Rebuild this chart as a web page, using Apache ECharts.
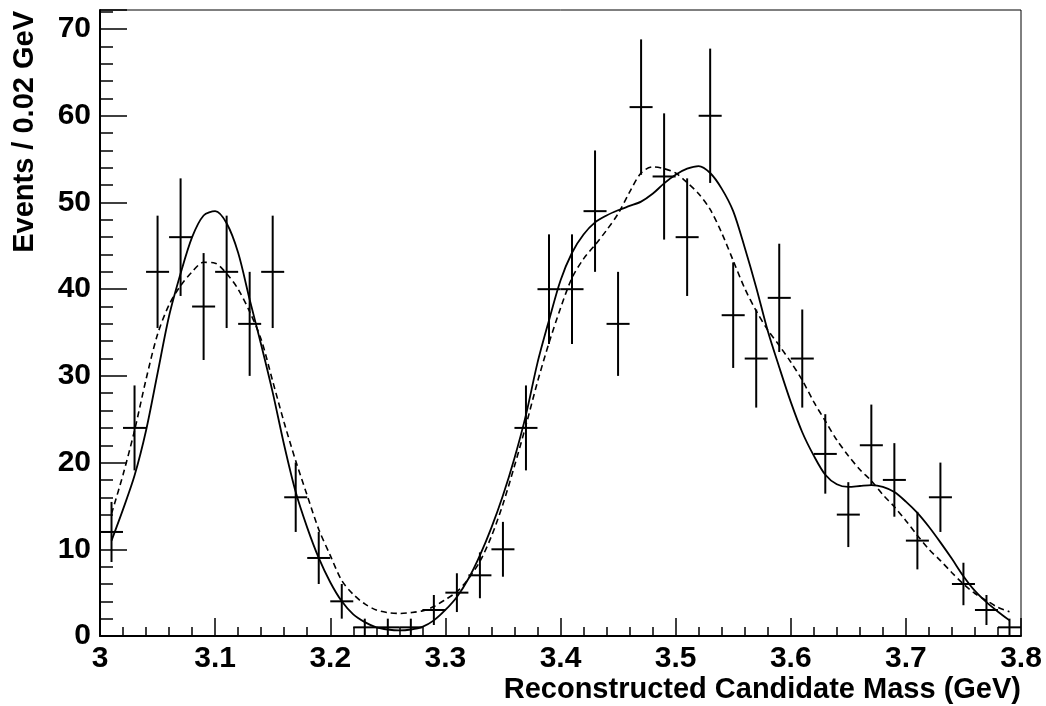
<!DOCTYPE html>
<html>
<head>
<meta charset="utf-8">
<script src="https://cdn.jsdelivr.net/npm/echarts@6/dist/echarts.min.js"></script>
<style>
  html, body { margin: 0; padding: 0; background: #fff; }
  #chart { width: 1046px; height: 706px; }
</style>
</head>
<body>
<div id="chart"></div>
<script>
// Histogram bins (centres, GeV) and event counts per 0.02 GeV
const binCenters = [3.01, 3.03, 3.05, 3.07, 3.09, 3.11, 3.13, 3.15, 3.17, 3.19,
                    3.21, 3.23, 3.25, 3.27, 3.29, 3.31, 3.33, 3.35, 3.37, 3.39,
                    3.41, 3.43, 3.45, 3.47, 3.49, 3.51, 3.53, 3.55, 3.57, 3.59,
                    3.61, 3.63, 3.65, 3.67, 3.69, 3.71, 3.73, 3.75, 3.77, 3.79];
const counts = [12, 24, 42, 46, 38, 42, 36, 42, 16, 9,
                4, 1, 1, 1, 3, 5, 7, 10, 24, 40,
                40, 49, 36, 61, 53, 46, 60, 37, 32, 39,
                32, 21, 14, 22, 18, 11, 16, 6, 3, 1];
const binWidth = 0.02;

// Fit curves sampled along the mass axis
const curveMass = [3.01, 3.02, 3.03, 3.04, 3.05, 3.06, 3.07, 3.08, 3.09, 3.10,
                   3.11, 3.12, 3.13, 3.14, 3.15, 3.16, 3.17, 3.18, 3.19, 3.20,
                   3.21, 3.22, 3.23, 3.24, 3.25, 3.26, 3.27, 3.28, 3.29, 3.30,
                   3.31, 3.32, 3.33, 3.34, 3.35, 3.36, 3.37, 3.38, 3.39, 3.40,
                   3.41, 3.42, 3.43, 3.44, 3.45, 3.46, 3.47, 3.48, 3.49, 3.50,
                   3.51, 3.52, 3.53, 3.54, 3.55, 3.56, 3.57, 3.58, 3.59, 3.60,
                   3.61, 3.62, 3.63, 3.64, 3.65, 3.66, 3.67, 3.68, 3.69, 3.70,
                   3.71, 3.72, 3.73, 3.74, 3.75, 3.76, 3.77, 3.78, 3.79];
// solid curve
const fitFull = [11.0, 14.6, 18.5, 23.7, 30.3, 36.9, 41.8, 46.0, 48.5, 49.0,
                 47.6, 44.2, 38.8, 33.6, 28.1, 22.0, 16.6, 12.5, 9.0, 6.2,
                 4.0, 2.5, 1.6, 1.0, 0.75, 0.65, 0.75, 1.05, 1.8, 3.0,
                 4.5, 6.6, 9.3, 12.5, 16.2, 20.5, 25.5, 31.5, 36.4, 41.0,
                 44.2, 46.3, 47.7, 48.5, 49.1, 49.6, 50.1, 51.0, 52.2, 53.2,
                 53.9, 54.2, 53.4, 51.6, 49.0, 44.8, 40.2, 35.2, 31.0, 27.0,
                 23.5, 20.8, 18.6, 17.5, 17.2, 17.3, 17.4, 17.2, 16.6, 15.5,
                 14.2, 12.6, 10.8, 8.9, 6.9, 5.2, 3.9, 2.8, 1.8];
// dashed curve
const fitAlt = [14.1, 18.6, 23.7, 29.6, 34.8, 38.2, 40.4, 42.0, 43.1, 43.0,
                41.8, 40.0, 37.4, 34.2, 29.4, 24.6, 20.2, 16.2, 12.3, 9.3,
                6.4, 4.8, 3.7, 3.0, 2.7, 2.6, 2.7, 2.9, 3.4, 4.2,
                5.1, 6.6, 8.6, 11.5, 15.2, 19.6, 24.3, 29.3, 33.8, 37.8,
                41.3, 43.5, 45.1, 46.8, 48.7, 51.2, 53.4, 54.1, 53.9, 53.4,
                52.3, 51.0, 49.2, 46.5, 43.3, 40.1, 37.5, 35.3, 33.5, 31.6,
                29.5, 27.0, 24.8, 22.6, 20.8, 19.2, 17.9, 16.3, 14.9, 13.3,
                11.6, 10.0, 8.7, 7.3, 6.0, 4.9, 4.1, 3.3, 2.8];

const xTitle = 'Reconstructed Candidate Mass (GeV)';
const yTitle = 'Events / 0.02 GeV';
const FONT = '"Liberation Sans", Arial, Helvetica, sans-serif';

const points = binCenters.map((x, i) => [x, counts[i], Math.sqrt(counts[i])]);
const solidLine = curveMass.map((x, i) => [x, fitFull[i]]);
const dashedLine = curveMass.map((x, i) => [x, fitAlt[i]]);

const chart = echarts.init(document.getElementById('chart'), null, { renderer: 'canvas' });

const yMax = 72.2;

chart.setOption({
  animation: false,
  backgroundColor: '#fff',
  grid: {
    left: 100, right: 25, top: 10, bottom: 70,
    show: true, borderColor: '#000', borderWidth: 1, backgroundColor: 'transparent'
  },
  xAxis: {
    type: 'value', min: 3, max: 3.8, interval: 0.1,
    axisLine: { show: true, lineStyle: { color: '#000', width: 2 } },
    axisTick: { show: true, inside: true, length: 18, lineStyle: { color: '#000', width: 1.5 } },
    minorTick: { show: true, splitNumber: 5, length: 9, lineStyle: { color: '#000', width: 1.5 } },
    splitLine: { show: false },
    axisLabel: {
      color: '#000', fontSize: 30, fontWeight: 'bold', fontFamily: FONT, margin: 8,
      formatter: v => String(Math.round(v * 10) / 10)
    }
  },
  yAxis: [
    {
      type: 'value', min: 0, max: yMax, interval: 10,
      axisLine: { show: true, lineStyle: { color: '#000', width: 2 } },
      axisTick: { show: true, inside: true, length: 27, lineStyle: { color: '#000', width: 1.5 } },
      splitLine: { show: false },
      axisLabel: {
        color: '#000', fontSize: 30, fontWeight: 'bold', fontFamily: FONT, margin: 9,
        formatter: v => (v > 70.5 ? '' : String(Math.round(v)))
      }
    },
    {
      // minor ticks every 2 events
      type: 'value', min: 0, max: yMax, interval: 2, position: 'left',
      axisLine: { show: false },
      axisTick: { show: true, inside: true, length: 13, lineStyle: { color: '#000', width: 1.5 } },
      splitLine: { show: false },
      axisLabel: { show: false }
    }
  ],
  graphic: [
    {
      type: 'text', x: 25, y: 11, rotation: Math.PI / 2,
      style: {
        text: yTitle, fill: '#000',
        font: 'bold 29px ' + FONT,
        align: 'right', verticalAlign: 'middle'
      }
    },
    {
      type: 'text', x: 1021, y: 690,
      style: {
        text: xTitle, fill: '#000',
        font: 'bold 29px ' + FONT,
        align: 'right', verticalAlign: 'middle'
      }
    }
  ],
  series: [
    {
      type: 'line', data: dashedLine, showSymbol: false, smooth: 0.3,
      lineStyle: { color: '#000', width: 1.6, type: [6, 4] }, z: 2
    },
    {
      type: 'line', data: solidLine, showSymbol: false, smooth: 0.3,
      lineStyle: { color: '#000', width: 1.8, type: 'solid' }, z: 3
    },
    {
      type: 'custom', data: points, z: 4,
      renderItem: function (params, api) {
        const x = api.value(0), y = api.value(1), e = api.value(2);
        const c = api.coord([x, y]);
        const lo = api.coord([x, Math.max(0, y - e)]);
        const hi = api.coord([x, y + e]);
        const l = api.coord([x - binWidth / 2, y]);
        const r = api.coord([x + binWidth / 2, y]);
        const st = { stroke: '#000', lineWidth: 2 };
        return {
          type: 'group',
          children: [
            { type: 'line', shape: { x1: c[0], y1: lo[1], x2: c[0], y2: hi[1] }, style: st },
            { type: 'line', shape: { x1: l[0], y1: c[1], x2: r[0], y2: c[1] }, style: st }
          ]
        };
      }
    }
  ]
});
</script>
</body>
</html>
